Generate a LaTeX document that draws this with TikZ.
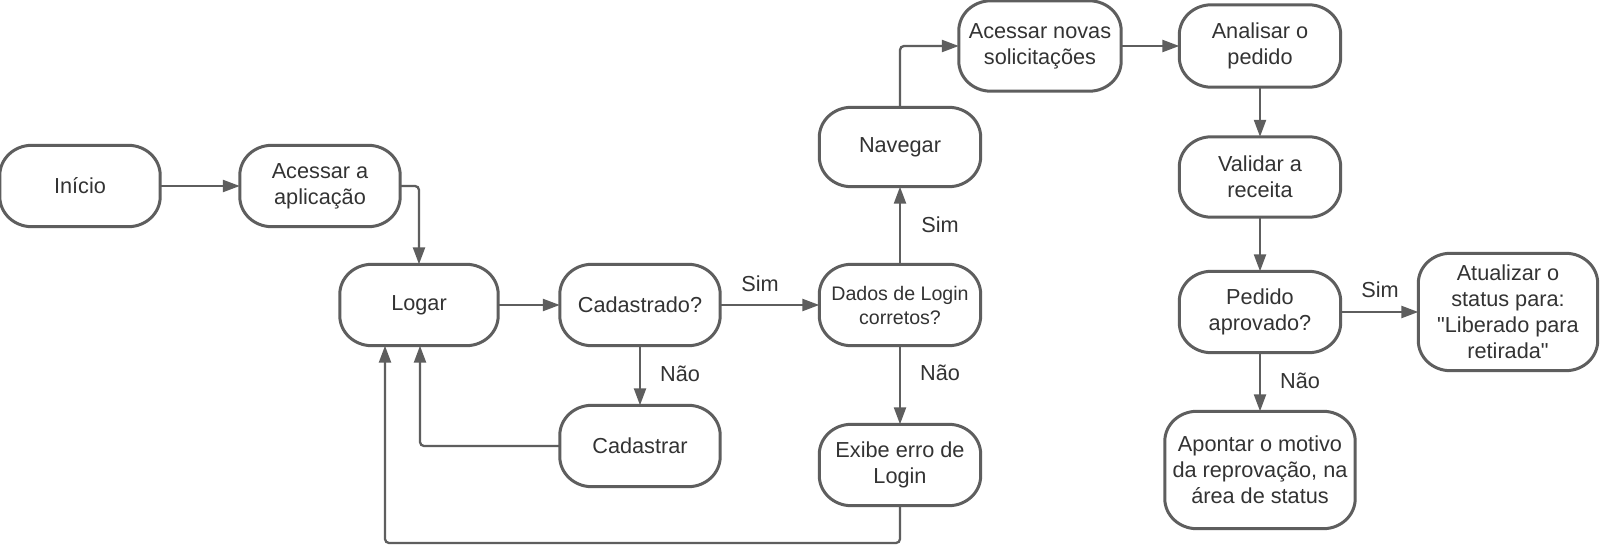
\documentclass[tikz,border=0pt]{standalone}
\usepackage{fontspec}
\setmainfont{Liberation Sans}
\newfontfamily\qfont{Liberation Sans}[Ligatures=ResetAll]
\usetikzlibrary{arrows.meta,calc}
\definecolor{lc}{HTML}{5E5E5E}
\definecolor{tc}{HTML}{333333}
\newcommand{\fsmain}{\fontsize{21.7}{26}\selectfont}
\newcommand{\fssmall}{\fontsize{19.6}{24}\selectfont}
\newcommand{\sq}{{\qfont"}}
\newcommand{\pill}[1]{%
  \draw[bline] ([xshift=32pt]#1.north west) -- ([xshift=-32pt]#1.north east)
    arc[start angle=90,end angle=0,x radius=32pt,y radius=30pt]
    -- ([yshift=30pt]#1.south east)
    arc[start angle=0,end angle=-90,x radius=32pt,y radius=30pt]
    -- ([xshift=32pt]#1.south west)
    arc[start angle=270,end angle=180,x radius=32pt,y radius=30pt]
    -- ([yshift=-30pt]#1.north west)
    arc[start angle=180,end angle=90,x radius=32pt,y radius=30pt] -- cycle;}
\begin{document}
\begin{tikzpicture}[x=1pt,y=-1pt,
  box/.style={minimum width=160pt, minimum height=81pt, inner sep=0pt,
    align=center, text=tc, font=\fsmain},
  bline/.style={draw=lc, line width=3pt, line join=round},
  arr/.style={draw=lc, line width=2.3pt, rounded corners=4pt,
    -{Triangle[length=17pt,width=12pt]}},
  lbl/.style={anchor=base, inner sep=0pt, text=tc, font=\fsmain}]
\useasboundingbox[fill=white] (0,0) rectangle (1600,546);

\node[box] (inicio) at (80,186) {Início};
\node[box] (acessar) at (320,186) {Acessar a\\aplicação};
\node[box, minimum width=158pt] (logar) at (419,305) {Logar};
\node[box] (cadastrado) at (640,305) {Cadastrado?};
\node[box] (cadastrar) at (640,446) {Cadastrar};
\node[box, minimum width=161pt, font=\fssmall] (dados) at (900,305) {Dados de Login\\corretos?};
\node[box, minimum width=161pt, minimum height=79pt] (navegar) at (900,147) {Navegar};
\node[box, minimum width=161pt] (exibe) at (900,465) {Exibe erro de\\Login};
\node[box, minimum width=162pt, minimum height=90pt] (novas) at (1040,46) {Acessar novas\\solicitações};
\node[box, minimum width=161pt, minimum height=82pt] (analisar) at (1260,46) {Analisar o\\pedido};
\node[box, minimum width=161pt, minimum height=80pt] (validar) at (1260,177) {Validar a\\receita};
\node[box, minimum width=161pt] (pedido) at (1260,312) {Pedido\\aprovado?};
\node[box, minimum width=179pt, minimum height=117pt] (atualizar) at (1508,312) {Atualizar o\\status para:\\\sq Liberado para\\retirada\sq};
\node[box, minimum width=190pt, minimum height=117pt] (apontar) at (1260,470) {Apontar o motivo\\da reprovação, na\\área de status};

\foreach \n in {inicio,acessar,logar,cadastrado,cadastrar,dados,navegar,exibe,novas,analisar,validar,pedido,atualizar,apontar}{\pill{\n}}

\coordinate (c1) at (420,446);
\coordinate (b1) at (385,543);

\draw[arr] (inicio.east) -- (acessar.west);
\draw[arr] (acessar.east) -| (logar.north);
\draw[arr] (logar.east) -- (cadastrado.west);
\draw[arr] (cadastrado.east) -- (dados.west);
\draw[arr] (cadastrado.south) -- (cadastrar.north);
\draw[arr] (cadastrar.west) -- (c1) -- (c1 |- logar.south);
\draw[arr] (exibe.south) |- (b1) -- (b1 |- logar.south);
\draw[arr] (dados.north) -- (navegar.south);
\draw[arr] (dados.south) -- (exibe.north);
\draw[arr] (navegar.north) |- (novas.west);
\draw[arr] (novas.east) -- (analisar.west);
\draw[arr] (analisar.south) -- (validar.north);
\draw[arr] (validar.south) -- (pedido.north);
\draw[arr] (pedido.east) -- (atualizar.west);
\draw[arr] (pedido.south) -- (apontar.north);

\node[lbl] (l1) at (760,291) {Sim};
\node[lbl] (l2) at (680,381) {Não};
\node[lbl] (l3) at (940,232) {Sim};
\node[lbl] (l4) at (940,380) {Não};
\node[lbl] (l5) at (1380,297) {Sim};
\node[lbl] (l6) at (1300,388) {Não};
\end{tikzpicture}
\end{document}
